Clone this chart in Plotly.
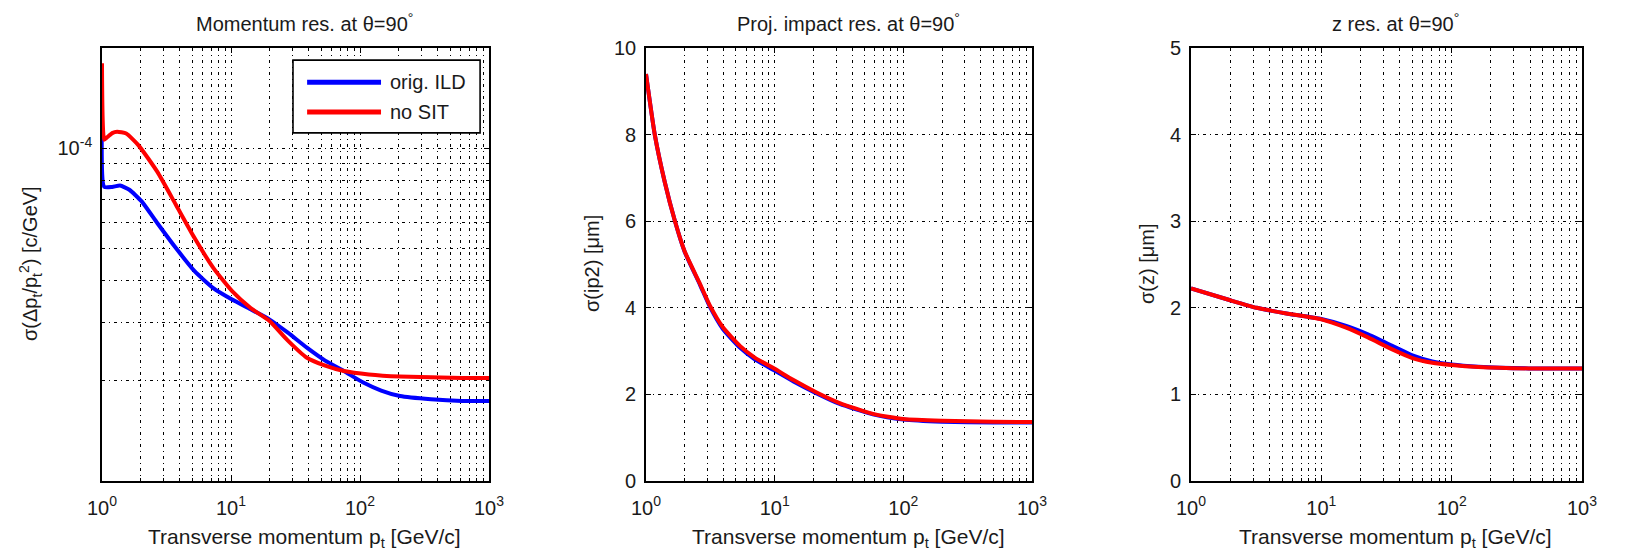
import plotly.graph_objects as go

# ---------------- data ----------------
SERIES_NAMES = ["orig. ILD", "no SIT"]
SERIES_COLORS = ["#0000FF", "#FF0000"]

# Panel 1: momentum resolution
PT_MOM_ILD = [1.0, 1.04, 1.2, 1.38, 1.63, 2.03, 2.68, 3.74, 5.22, 7.29, 10.2, 14.2,
              19.8, 27.6, 38.5, 53.7, 75, 105, 146, 204, 355, 617, 1000]
SIG_MOM_ILD = [1.3e-4, 7.65e-5, 7.65e-5, 7.72e-5, 7.5e-5, 6.92e-5, 5.96e-5, 5.01e-5,
               4.27e-5, 3.80e-5, 3.51e-5, 3.28e-5, 3.06e-5, 2.79e-5, 2.52e-5, 2.30e-5,
               2.14e-5, 1.98e-5, 1.87e-5, 1.80e-5, 1.76e-5, 1.74e-5, 1.74e-5]
PT_MOM_NOSIT = [1.0, 1.04, 1.1, 1.2, 1.31, 1.54, 1.92, 2.68, 3.74, 5.22, 7.29, 10.2,
                14.2, 19.8, 27.6, 38.5, 53.7, 75, 117, 204, 617, 1000]
SIG_MOM_NOSIT = [1.8e-4, 1.06e-4, 1.08e-4, 1.11e-4, 1.12e-4, 1.107e-4, 1.02e-4, 8.5e-5,
                 6.76e-5, 5.37e-5, 4.37e-5, 3.72e-5, 3.31e-5, 3.03e-5, 2.64e-5, 2.35e-5,
                 2.22e-5, 2.14e-5, 2.09e-5, 2.06e-5, 2.04e-5, 2.04e-5]

# Panel 2: projected impact parameter resolution [um]
PT_IP = [1.0, 1.17, 1.4, 1.68, 2.0, 2.63, 3.14, 3.96, 5.37, 7.0, 10, 14, 21, 32, 58,
         100, 200, 500, 1000]
SIG_IP_ILD = [9.4, 8.0, 6.9, 6.0, 5.29, 4.53, 4.02, 3.51, 3.08, 2.81, 2.55, 2.30, 2.03,
              1.78, 1.54, 1.42, 1.37, 1.35, 1.35]
SIG_IP_NOSIT = [9.4, 8.0, 6.9, 6.0, 5.3, 4.55, 4.05, 3.55, 3.12, 2.85, 2.59, 2.33, 2.05,
                1.80, 1.55, 1.43, 1.39, 1.37, 1.36]

# Panel 3: z resolution [um]
PT_Z = [1.0, 2.0, 3.19, 5.4, 10, 15.5, 23, 35, 50, 71, 100, 160, 390, 1000]
SIG_Z_ILD = [2.225, 2.087, 2.0, 1.935, 1.87, 1.79, 1.69, 1.56, 1.45, 1.38, 1.345, 1.32,
             1.30, 1.30]
SIG_Z_NOSIT = [2.225, 2.087, 2.0, 1.935, 1.867, 1.77, 1.655, 1.52, 1.42, 1.366, 1.34,
               1.317, 1.30, 1.30]

TITLES = ["Momentum res. at θ=90<sup>°</sup>", "Proj. impact res. at θ=90<sup>°</sup>",
          "z res. at θ=90<sup>°</sup>"]
XLABEL = "Transverse momentum p<sub>t</sub> [GeV/c]"
YLABELS = ["σ(Δp<sub>t</sub>/p<sub>t</sub><sup>2</sup>) [c/GeV]", "σ(ip2) [μm]", "σ(z) [μm]"]
X_TICKVALS = [1, 10, 100, 1000]
X_TICKTEXT = ["10<sup>0</sup>", "10<sup>1</sup>", "10<sup>2</sup>", "10<sup>3</sup>"]
X_MINOR = [m * d for d in (1, 10, 100) for m in range(2, 10)]
Y1_TICKVALS = [1e-4]
Y1_TICKTEXT = ["10<sup>-4</sup>"]
Y1_MINOR = [m * 1e-5 for m in range(2, 10)]

# ---------------- layout geometry ----------------
W, H = 1632, 556
PANELS_PX = [(102, 489), (646, 1032), (1191, 1582)]
TOP_PX, BOT_PX = 48, 481
FONT = "Liberation Sans, Arial, sans-serif"
TXT = "#1a1a1a"
GRIDDASH = "3px,4px,1px,4px"

fig = go.Figure()

panel_data = [
    [(PT_MOM_ILD, SIG_MOM_ILD), (PT_MOM_NOSIT, SIG_MOM_NOSIT)],
    [(PT_IP, SIG_IP_ILD), (PT_IP, SIG_IP_NOSIT)],
    [(PT_Z, SIG_Z_ILD), (PT_Z, SIG_Z_NOSIT)],
]
for p, series in enumerate(panel_data):
    sfx = "" if p == 0 else str(p + 1)
    for s, (xs, ys) in enumerate(series):
        fig.add_trace(go.Scatter(
            x=xs, y=ys, mode="lines", name=SERIES_NAMES[s],
            line=dict(color=SERIES_COLORS[s], width=4, shape="spline", smoothing=0.5),
            xaxis="x" + sfx, yaxis="y" + sfx, showlegend=False, hoverinfo="skip"))

common_axis = dict(
    showline=True, linecolor="black", linewidth=1.6, mirror="allticks",
    ticks="inside", ticklen=5, tickwidth=1, tickcolor="black",
    showgrid=True, gridcolor="black", gridwidth=1.2, griddash=GRIDDASH,
    zeroline=False, automargin=False, fixedrange=True,
    tickfont=dict(family=FONT, size=20, color=TXT),
)

ydom = [1 - BOT_PX / H, 1 - TOP_PX / H]
for p, (l, r) in enumerate(PANELS_PX):
    sfx = "" if p == 0 else str(p + 1)
    xa = dict(common_axis)
    xa.update(
        type="log", range=[0, 3], domain=[l / W, r / W],
        tickmode="array", tickvals=X_TICKVALS, ticktext=X_TICKTEXT,
        anchor="y" + sfx, ticklabelstandoff=8,
        minor=dict(tickmode="array", tickvals=X_MINOR, ticks="inside", ticklen=3,
                   tickcolor="black", showgrid=True, gridcolor="black",
                   gridwidth=1.2, griddash=GRIDDASH),
    )
    ya = dict(common_axis)
    ya.update(domain=ydom, anchor="x" + sfx, ticklabelstandoff=4)
    if p == 0:
        ya.update(type="log", range=[-5, -3.69897], tickmode="array",
                  tickvals=Y1_TICKVALS, ticktext=Y1_TICKTEXT,
                  minor=dict(tickmode="array", tickvals=Y1_MINOR, ticks="inside",
                             ticklen=3, tickcolor="black", showgrid=True,
                             gridcolor="black", gridwidth=1.2, griddash=GRIDDASH))
    elif p == 1:
        ya.update(range=[0, 10], tickmode="linear", tick0=0, dtick=2)
    else:
        ya.update(range=[0, 5], tickmode="linear", tick0=0, dtick=1)
    fig.layout["xaxis" + sfx] = xa
    fig.layout["yaxis" + sfx] = ya

annotations = []
ylab_x = [31, 592, 1147]
for p, (l, r) in enumerate(PANELS_PX):
    cx = (l + r) / 2 + 9
    annotations.append(dict(text=TITLES[p], x=cx / W, y=1 - 23 / H, xref="paper",
                            yref="paper", showarrow=False, xanchor="center",
                            yanchor="middle", font=dict(family=FONT, size=20, color=TXT)))
    annotations.append(dict(text=XLABEL, x=cx / W, y=1 - 538 / H, xref="paper",
                            yref="paper", showarrow=False, xanchor="center",
                            yanchor="middle", font=dict(family=FONT, size=21, color=TXT)))
    annotations.append(dict(text=YLABELS[p], x=ylab_x[p] / W, y=1 - 264 / H,
                            xref="paper", yref="paper", showarrow=False, textangle=-90,
                            xanchor="center", yanchor="middle",
                            font=dict(family=FONT, size=20, color=TXT)))

# legend box (panel 1, top right), in axis-domain coordinates
shapes = [dict(type="rect", xref="x domain", yref="y domain", x0=0.4935, x1=0.977,
               y0=0.804, y1=0.972, line=dict(color="black", width=1.6),
               fillcolor="white", layer="above")]
leg_y = [0.921, 0.852]
for s in range(2):
    shapes.append(dict(type="line", xref="x domain", yref="y domain", x0=0.530,
                       x1=0.721, y0=leg_y[s], y1=leg_y[s],
                       line=dict(color=SERIES_COLORS[s], width=5), layer="above"))
    annotations.append(dict(text=SERIES_NAMES[s], xref="x domain", yref="y domain",
                            x=0.739, y=leg_y[s], showarrow=False, xanchor="left",
                            yanchor="middle", font=dict(family=FONT, size=20, color=TXT)))

fig.update_layout(
    width=W, height=H, autosize=False,
    margin=dict(l=0, r=0, t=0, b=0, pad=0, autoexpand=False),
    paper_bgcolor="white", plot_bgcolor="white",
    annotations=annotations, shapes=shapes, showlegend=False,
)

fig.write_html("out.html", config={"displayModeBar": False},
               post_script="document.body.style.margin='0px';"
                           "document.body.style.overflow='hidden';")
